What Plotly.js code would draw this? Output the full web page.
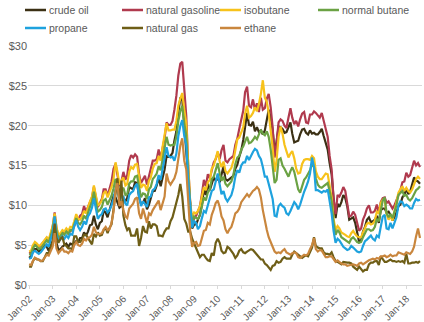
<!DOCTYPE html>
<html><head><meta charset="utf-8">
<script src="https://cdn.plot.ly/plotly-3.0.1.min.js"></script>
<style>html,body{margin:0;padding:0;background:#fff}#chart{width:424px;height:322px}</style>
</head><body><div id="chart"></div>
<script>
// Monthly values, Jan 2002 - Aug 2018, $/MMBtu
var startYear = 2002, startMonth = 1;
var seriesNames = ["crude oil","natural gasoline","isobutane","normal butane","propane","natural gas","ethane"];
var seriesColors = ["#3b3014","#b03a4e","#f7c21b","#6ba244","#1ea2de","#6e5e17","#c9863d"];
var yTicks = [0,5,10,15,20,25,30];
var yTickLabels = ["$0","$5","$10","$15","$20","$25","$30"];

var crudeOil = [
3.4,3.6,4.2,4.5,4.5,4.2,4.5,4.7,5.0,4.8,4.3,4.9,
5.5,5.8,5.3,4.4,4.5,4.8,5.0,5.2,4.8,5.2,5.1,5.2,
5.5,5.4,5.9,5.9,6.6,6.2,6.7,7.5,7.6,8.7,7.6,7.0,
7.8,8.0,9.3,9.1,8.5,9.5,10.1,11.2,11.0,10.3,9.7,9.9,
10.9,10.5,10.9,12.3,12.2,12.0,12.9,12.8,11.0,10.2,10.3,10.9,
9.5,10.1,10.9,11.8,11.8,12.5,13.5,12.4,13.5,14.5,16.2,16.1,
16.2,16.6,18.1,19.3,21.7,23.4,23.3,19.9,17.1,12.6,9.2,7.1,
7.6,7.6,8.2,8.8,10.1,12.0,11.3,12.7,11.9,12.8,13.5,13.1,
13.4,12.9,13.8,14.9,13.3,13.1,13.3,13.5,13.7,14.6,15.1,16.1,
16.9,18.2,20.1,21.6,20.1,20.0,20.5,19.3,19.8,19.2,19.4,18.9,
19.4,20.9,22.0,21.0,19.4,16.7,18.0,19.9,19.8,19.6,19.1,19.2,
19.7,20.4,19.0,17.9,18.0,18.1,18.9,19.5,19.6,19.1,18.9,19.4,
19.0,19.1,18.9,18.9,19.2,19.6,18.7,17.8,17.0,15.3,13.9,10.9,
8.4,10.2,9.8,10.4,11.3,10.9,9.9,8.2,8.4,8.5,7.8,6.7,
5.4,5.6,6.7,7.3,8.2,8.5,7.9,8.0,8.2,8.7,7.8,9.4,
9.6,9.6,9.1,9.2,8.8,8.1,8.5,9.1,9.9,10.1,11.0,11.3,
12.1,11.4,11.7,12.6,13.5,13.1,13.0,12.7];

var naturalGasoline = [
4.0,4.1,4.8,5.2,5.0,4.8,5.0,5.3,5.7,5.9,5.4,6.2,
7.3,9.1,7.2,6.0,6.1,6.6,6.6,6.9,6.4,6.8,6.9,7.4,
8.0,8.2,8.7,8.9,9.9,9.2,9.8,10.6,11.0,12.3,11.0,9.8,
10.3,10.8,12.0,12.0,11.2,12.3,13.0,14.6,15.2,13.8,12.4,13.0,
14.2,13.2,13.8,15.6,16.3,16.0,16.4,16.1,13.9,12.8,13.3,13.7,
12.6,13.6,14.4,15.6,15.6,15.8,17.0,15.9,17.2,18.4,20.4,20.1,
20.1,20.6,22.0,23.8,26.3,27.8,28.0,24.0,21.2,15.0,10.3,7.6,
8.4,8.7,9.2,9.9,11.4,13.2,12.4,13.9,13.4,14.6,15.4,15.8,
16.6,15.8,16.9,17.6,15.6,15.4,15.8,16.0,16.2,17.6,18.4,19.6,
20.6,21.9,24.2,24.9,22.5,22.3,23.3,22.0,22.8,21.7,23.5,22.0,
22.2,23.4,24.0,22.3,19.8,16.0,17.8,20.4,20.8,20.6,20.0,19.7,
21.0,22.2,21.0,20.2,20.6,19.9,20.8,21.5,21.7,20.4,20.3,21.4,
21.4,21.8,21.6,21.3,21.0,21.6,20.6,19.7,18.6,16.2,14.5,10.8,
8.9,11.3,11.1,11.6,12.3,11.8,10.3,8.6,8.7,9.2,8.8,7.9,
6.8,7.1,8.2,8.8,9.6,10.0,9.1,9.1,9.3,10.1,9.0,10.4,
10.9,11.0,10.3,10.5,10.0,9.6,10.0,10.6,11.4,11.9,12.9,13.0,
14.1,13.6,13.8,14.6,15.6,15.0,15.3,14.8];

var isobutane = [
4.2,4.3,5.0,5.4,5.2,4.9,5.0,5.3,5.7,6.0,5.7,6.4,
7.4,9.0,7.2,6.3,6.5,6.9,6.7,7.1,6.8,7.3,7.2,8.0,
8.9,8.3,8.2,8.6,9.3,9.0,9.8,10.5,11.1,12.5,11.2,10.0,
10.2,10.6,11.5,11.8,11.0,11.6,12.3,13.3,15.4,14.2,12.6,13.1,
13.5,12.5,12.7,14.2,14.8,14.6,15.1,15.2,13.4,12.2,12.6,12.5,
11.8,13.1,13.5,14.6,15.2,15.3,16.2,15.6,17.4,18.6,20.3,19.4,
19.4,19.5,19.5,20.6,22.5,23.4,24.1,22.0,20.3,15.0,10.4,8.3,
9.1,9.0,9.3,9.9,11.0,12.3,11.9,12.9,13.2,14.6,15.0,16.0,
16.8,15.5,14.8,15.5,14.3,14.0,14.4,14.7,15.6,17.2,18.3,18.5,
19.2,19.8,21.5,22.5,21.0,21.2,21.6,22.3,21.8,22.7,24.0,25.7,
23.5,23.0,21.6,19.7,17.2,14.2,15.6,18.6,19.9,19.0,17.6,16.8,
16.0,16.5,16.8,15.9,14.6,14.0,14.1,15.2,15.7,15.8,15.8,15.7,
16.2,15.9,14.3,13.6,13.3,13.3,13.7,14.0,13.9,12.5,11.0,8.3,
6.9,7.4,7.1,6.6,6.5,6.3,6.1,6.0,6.5,6.8,6.4,6.1,
6.0,6.0,6.6,7.2,7.7,7.8,7.6,7.7,8.1,9.2,9.0,10.3,
10.7,10.6,8.9,8.2,8.6,8.1,9.2,10.4,11.6,12.0,12.4,11.8,
12.2,11.8,11.6,12.0,12.6,13.3,13.6,13.3];

var normalButane = [
3.8,3.9,4.6,5.0,4.8,4.5,4.6,4.9,5.3,5.6,5.3,6.0,
7.0,8.6,6.8,5.9,6.1,6.5,6.3,6.7,6.4,6.9,6.8,7.6,
8.4,7.8,7.6,8.0,8.7,8.3,9.2,9.8,10.4,11.7,10.4,9.2,
9.4,9.8,10.6,10.8,10.1,10.6,11.2,12.1,13.3,12.8,11.4,11.9,
12.2,11.3,11.4,12.7,13.0,13.0,13.6,13.7,12.0,11.0,11.5,11.4,
10.8,12.0,12.3,13.3,13.6,14.0,14.9,14.4,15.8,17.0,18.6,17.6,
17.5,17.6,17.6,18.6,20.6,21.8,22.5,20.2,18.8,13.8,9.9,7.8,
8.6,8.4,8.3,8.8,9.8,11.0,10.6,11.6,12.0,13.3,13.6,14.6,
15.3,14.0,13.1,13.6,12.7,12.4,12.7,13.0,13.8,15.2,16.0,16.2,
17.0,17.4,18.0,18.6,17.8,17.9,18.2,18.6,18.3,18.8,19.5,19.0,
18.8,19.3,18.6,17.0,15.0,12.8,13.2,15.7,15.9,15.0,14.6,14.0,
13.6,14.3,14.8,14.2,13.2,12.0,11.6,12.4,13.2,13.5,13.9,14.4,
15.2,14.8,13.4,12.6,12.3,12.2,12.4,12.6,12.8,11.8,10.5,7.8,
6.3,6.9,6.6,6.0,5.8,5.6,5.4,5.3,5.8,6.0,5.7,5.4,
5.3,5.4,6.0,6.6,7.0,7.0,6.8,6.9,7.3,8.3,8.0,9.3,
10.6,11.0,9.0,8.5,8.9,8.4,9.3,10.0,11.3,11.6,11.8,11.2,
11.3,10.8,10.6,10.9,11.4,11.9,12.1,12.4];

var propane = [
3.3,3.4,4.1,4.3,4.1,3.9,4.1,4.4,4.8,5.1,4.8,5.7,
6.6,8.6,6.4,5.5,5.7,6.1,5.8,6.2,5.9,6.4,6.3,7.4,
8.1,7.3,6.9,7.3,8.0,7.6,8.6,9.0,9.7,10.9,9.5,8.3,
8.7,8.9,9.5,9.6,9.1,9.4,10.0,10.8,12.1,11.8,10.6,11.1,
11.1,10.2,10.0,11.3,11.6,11.8,12.4,12.7,11.1,9.9,10.5,10.2,
9.8,11.0,11.1,11.9,12.1,12.7,13.8,13.2,14.5,16.0,17.3,16.2,
16.0,16.1,15.6,16.5,18.7,20.0,20.7,18.7,17.6,13.2,9.5,7.2,
8.0,7.8,7.0,7.4,8.4,9.3,9.1,10.0,10.6,11.8,12.0,13.2,
14.0,12.6,11.4,11.8,10.9,10.5,10.9,11.3,12.2,13.6,14.4,14.1,
15.0,15.4,15.4,16.2,15.7,16.3,16.7,17.1,16.9,16.2,15.8,14.8,
13.6,13.6,12.7,11.9,10.8,8.7,8.6,9.9,10.2,9.9,9.7,9.0,
8.8,9.3,9.9,10.4,10.1,9.5,10.1,11.0,11.7,12.3,13.0,14.0,
16.0,14.8,11.9,11.9,11.7,11.6,11.8,11.7,12.0,10.5,9.0,6.8,
5.3,5.8,5.6,5.2,4.8,4.6,4.4,4.5,4.9,4.7,4.4,4.2,
4.1,4.2,4.9,5.5,5.7,6.0,6.2,5.8,5.6,6.2,6.0,7.3,
8.6,8.8,7.1,7.0,7.8,7.1,7.9,8.5,10.0,10.5,10.4,9.9,
10.1,9.9,9.6,9.6,10.3,10.8,10.6,10.7];

var naturalGas = [
2.3,2.3,3.0,3.4,3.2,3.2,3.0,3.0,3.5,4.0,4.0,4.7,
5.4,7.7,5.9,5.3,5.8,6.0,5.1,4.9,4.6,4.6,4.5,6.1,
6.1,5.4,5.4,5.7,6.3,6.3,5.9,5.4,5.1,6.4,6.1,6.6,
6.2,6.3,6.9,7.2,6.5,7.2,7.6,9.5,11.9,13.4,10.3,13.1,
8.7,7.5,6.9,7.2,6.2,6.2,6.2,7.1,4.9,5.9,7.4,6.7,
6.6,8.0,7.1,7.6,7.6,7.4,6.2,6.2,6.1,6.7,7.1,7.1,
8.0,8.5,9.4,10.2,11.3,12.7,11.1,8.3,7.7,6.7,6.7,5.8,
5.2,4.5,4.0,3.5,3.8,3.8,3.4,3.1,3.0,4.0,3.7,5.3,
5.8,5.3,4.3,4.0,4.1,4.8,4.6,4.3,3.9,3.4,3.7,4.3,
4.5,4.1,4.0,4.2,4.3,4.5,4.4,4.1,3.9,3.6,3.2,3.2,
2.7,2.5,2.2,1.9,2.4,2.5,3.0,2.8,2.9,3.3,3.5,3.3,
3.3,3.3,3.8,4.2,4.0,3.8,3.6,3.4,3.6,3.7,3.6,4.2,
4.7,6.0,4.9,4.7,4.6,4.6,4.1,3.9,3.9,3.8,4.1,3.5,
3.0,2.9,2.8,2.6,2.9,2.8,2.8,2.8,2.7,2.3,2.1,1.9,
2.3,2.0,1.7,1.9,1.9,2.6,2.8,2.8,3.0,3.0,2.5,3.6,
3.3,2.9,2.9,3.1,3.2,3.0,3.0,2.9,3.0,2.9,3.0,2.8,
3.9,2.7,2.7,2.8,2.8,2.9,2.8,3.0];

var ethane = [
2.6,2.5,3.0,3.4,3.3,3.1,3.0,3.1,3.5,3.8,3.7,4.2,
4.8,6.5,4.6,4.0,4.3,4.6,4.2,4.2,4.0,4.3,4.2,5.0,
5.4,5.0,4.9,5.2,5.8,5.6,5.9,6.0,6.3,7.3,6.6,6.4,
6.4,6.5,7.0,7.3,6.9,7.0,7.8,9.2,11.9,12.8,9.9,10.5,
9.4,8.6,8.4,9.6,9.9,10.2,10.8,11.0,9.0,8.3,9.6,8.5,
7.8,9.0,8.8,9.4,9.8,10.3,10.6,9.4,10.2,11.1,14.0,13.0,
12.6,13.1,13.4,14.2,16.0,17.5,18.4,15.6,14.5,10.4,6.6,4.8,
5.3,5.4,4.9,5.0,5.8,6.8,6.9,7.8,7.6,8.8,9.5,10.3,
10.6,9.8,8.6,8.1,7.0,6.5,7.0,7.3,8.1,9.0,9.2,9.6,
10.4,10.8,11.0,11.4,11.1,11.5,11.8,12.0,12.3,12.0,11.0,9.4,
8.0,6.9,6.0,5.3,4.8,4.2,4.0,4.1,4.0,4.3,4.5,4.1,
3.9,3.8,4.0,4.1,4.0,3.5,3.4,3.6,3.8,3.7,3.9,4.5,
5.0,5.9,4.5,4.2,4.4,4.3,3.9,3.5,3.5,3.6,3.6,3.2,
2.9,3.1,2.9,2.7,2.6,2.6,2.4,2.5,2.6,2.6,2.5,2.4,
2.7,2.8,2.6,2.8,3.0,3.1,3.2,3.3,3.2,3.4,3.3,3.6,
3.6,3.7,3.5,3.6,3.8,3.6,3.7,3.7,4.1,4.0,3.9,3.8,
4.1,4.0,3.9,4.2,4.8,6.1,7.1,5.9];

var seriesValues = [crudeOil, naturalGasoline, isobutane, normalButane, propane, naturalGas, ethane];

function monthDates(n){
  var out = [];
  for (var i = 0; i < n; i++) {
    var m = startMonth - 1 + i;
    var y = startYear + Math.floor(m / 12);
    var mm = (m % 12) + 1;
    out.push(y + "-" + (mm < 10 ? "0" + mm : mm) + "-01");
  }
  return out;
}

var traces = seriesNames.map(function(name, k){
  return {
    type: "scatter", mode: "lines", name: name,
    x: monthDates(seriesValues[k].length), y: seriesValues[k],
    line: {color: seriesColors[k], width: 2.2},
    hoverinfo: "skip", showlegend: false
  };
});

// Hand-placed legend (pixel layout of the reference)
var W = 424, H = 322, M = {l: 28, r: 2, t: 46, b: 37};
var pw = W - M.l - M.r, ph = H - M.t - M.b;
function px(x){ return (x - M.l) / pw; }
function py(y){ return (H - M.b - y) / ph; }
var legendSlots = [[25,10],[122,10],[220,10],[318,10],[25,28],[122,28],[220,28]];
var shapes = [], annotations = [];
seriesNames.forEach(function(name, k){
  var s = legendSlots[k];
  shapes.push({type: "line", xref: "paper", yref: "paper",
    x0: px(s[0]), x1: px(s[0] + 21), y0: py(s[1]), y1: py(s[1]),
    line: {color: seriesColors[k], width: 2.5}});
  annotations.push({xref: "paper", yref: "paper", x: px(s[0] + 22), y: py(s[1]),
    xanchor: "left", yanchor: "middle", showarrow: false, text: name,
    font: {size: 10.5, color: "#595959"}});
});

var layout = {
  width: W, height: H,
  margin: M,
  paper_bgcolor: "#fff", plot_bgcolor: "#fff",
  font: {family: "Liberation Sans, Arial, sans-serif", size: 11, color: "#595959"},
  showlegend: false,
  shapes: shapes, annotations: annotations,
  xaxis: {
    type: "date", range: ["2001-12-15", "2018-09-01"],
    tick0: "2002-01-01", dtick: "M12", tickformat: "%b-%y",
    tickangle: -45, tickfont: {size: 10, color: "#595959"},
    showgrid: false, showline: true, linecolor: "#d9d9d9", linewidth: 1,
    ticks: "outside", ticklen: 3, tickcolor: "#d9d9d9", zeroline: false
  },
  yaxis: {
    range: [0, 30], tickmode: "array", tickvals: yTicks, ticktext: yTickLabels,
    tickfont: {size: 11, color: "#595959"},
    showgrid: true, gridcolor: "#d9d9d9", gridwidth: 1,
    zeroline: false, showline: false, ticks: ""
  }
};

Plotly.newPlot("chart", traces, layout, {displayModeBar: false, staticPlot: true});
</script>
</body></html>
